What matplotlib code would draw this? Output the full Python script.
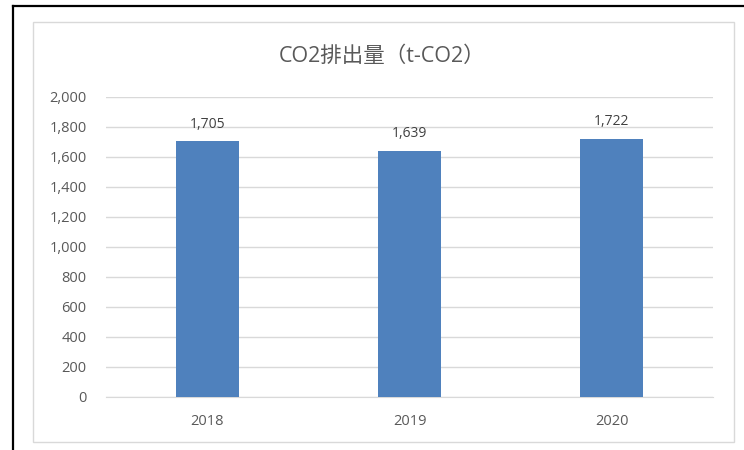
import matplotlib.pyplot as plt
from matplotlib.patches import Rectangle
from matplotlib.lines import Line2D

years = ["2018", "2019", "2020"]
co2 = [1705, 1639, 1722]
title = "CO2排出量（t-CO2）"

plt.rcParams['font.family'] = ['Open Sans', 'Noto Sans CJK JP', 'DejaVu Sans']

fig = plt.figure(figsize=(7.44, 4.5), dpi=100)
W, H = 744, 450

# outer black lines (left and top only) and gray chart frame
fig.add_artist(Line2D([13 / W, 13 / W], [0, 1 - 6 / H], color="black", lw=1.6))
fig.add_artist(Line2D([13 / W, 1], [1 - 6 / H, 1 - 6 / H], color="black", lw=1.6))
fig.add_artist(Rectangle((33 / W, 1 - 442 / H), (734 - 33) / W, (442 - 22) / H,
                         fill=False, edgecolor="#D9D9D9", lw=1.0))

ax = fig.add_axes([106 / W, 1 - 397 / H, (713 - 106) / W, 300 / H])
x = range(len(years))
bars = ax.bar(x, co2, width=0.31, color="#4F81BD", zorder=3)
ax.set_xlim(-0.5, len(years) - 0.5)
ax.set_ylim(0, 2000)
ax.set_yticks(range(0, 2001, 200))
ax.set_yticklabels([f"{v:,}" for v in range(0, 2001, 200)])
ax.set_xticks(list(x))
ax.set_xticklabels(years)
ax.grid(axis="y", color="#D9D9D9", lw=1.0, zorder=0)
for s in ax.spines.values():
    s.set_visible(False)
ax.spines["bottom"].set_visible(True)
ax.spines["bottom"].set_color("#D9D9D9")
ax.tick_params(length=0, colors="#595959", labelsize=10.5)
ax.tick_params(axis="y", pad=14)
ax.tick_params(axis="x", pad=12)

for xi, v in zip(x, co2):
    ax.annotate(f"{v:,}", (xi, v), xytext=(0, 7), textcoords="offset points",
                ha="center", va="bottom", fontsize=10, color="#404040")

fig.text(382 / W, 1 - 56 / H, title, ha="center", va="center",
         fontsize=15.5, color="#595959")

fig.savefig("out.png", dpi=100)
